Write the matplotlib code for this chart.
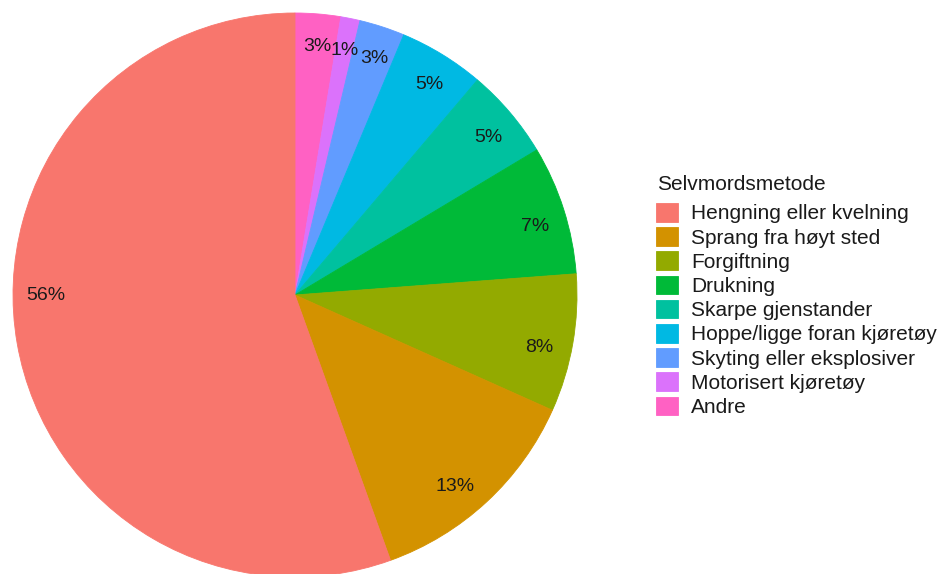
import matplotlib
matplotlib.use("Agg")
import matplotlib.pyplot as plt
import numpy as np

plt.rcParams["font.family"] = ["Liberation Sans", "DejaVu Sans"]

# Share of suicides by method (percent), legend order
methods = [
    "Hengning eller kvelning",
    "Sprang fra høyt sted",
    "Forgiftning",
    "Drukning",
    "Skarpe gjenstander",
    "Hoppe/ligge foran kjøretøy",
    "Skyting eller eksplosiver",
    "Motorisert kjøretøy",
    "Andre",
]
shares = [55.5, 12.8, 7.9, 7.4, 5.2, 4.9, 2.6, 1.1, 2.6]
# where each percentage label sits along the circle (percent, clockwise from 12 o'clock)
label_pos = [75.0, 38.9, 28.4, 20.6, 14.1, 9.06, 5.14, 3.2, 1.42]
colors = ["#F8766D", "#D39200", "#93AA00", "#00BA38", "#00C19F",
          "#00B9E3", "#619CFF", "#DB72FB", "#FF61C3"]
legend_title = "Selvmordsmetode"

W, H = 943, 574
fig = plt.figure(figsize=(W / 100, H / 100), dpi=100)
fig.patch.set_facecolor("white")

cx, cy, r = 295, 295, 282
ax = fig.add_axes([(cx - r) / W, (H - cy - r) / H, 2 * r / W, 2 * r / H])

# slices run clockwise from the top, last legend entry first
wedges, _ = ax.pie(
    shares[::-1],
    colors=colors[::-1],
    startangle=90,
    counterclock=False,
    radius=1.0,
    wedgeprops=dict(linewidth=0.6, antialiased=True),
)
for w, c in zip(wedges, colors[::-1]):
    w.set_edgecolor(c)
wedges = wedges[::-1]

label_r = 0.885
total = sum(shares)
for v, p in zip(shares, label_pos):
    theta = np.deg2rad(90 - 360 * p / total)
    ax.text(label_r * np.cos(theta), label_r * np.sin(theta), f"{v:.0f}%",
            fontsize=14, color="#1a1a1a", ha="center", va="center")

ax.set_xlim(-1, 1)
ax.set_ylim(-1, 1)
ax.set_aspect("equal")
ax.axis("off")

fs = 15
# legend title drawn as its own text, entries below it
fig.text(657 / W, 1 - 185 / H, legend_title, fontsize=fs, color="#1a1a1a",
         ha="left", va="center")
leg = fig.legend(
    wedges,
    methods,
    loc="upper left",
    bbox_to_anchor=(656 / W, 1 - 203 / H),
    frameon=False,
    fontsize=fs,
    handlelength=1.06,
    handleheight=1.0,
    handletextpad=0.62,
    labelspacing=0.18,
    borderpad=0,
    borderaxespad=0,
)
for t in leg.get_texts():
    t.set_color("#1a1a1a")

fig.savefig("out.png", dpi=100, facecolor="white")
